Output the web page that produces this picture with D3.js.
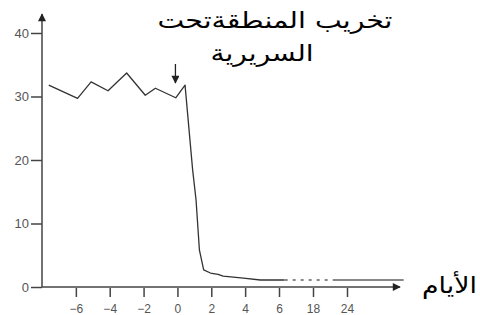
<!DOCTYPE html>
<html>
<head>
<meta charset="utf-8">
<script src="https://cdn.jsdelivr.net/npm/d3@7"></script>
<style>
  body { margin: 0; background: #fff; }
  svg { display: block; font-family: 'DejaVu Sans', sans-serif; }
  .tick text { fill: #555; }
  .tick line { stroke: #444; stroke-width: 1.5px; }
</style>
</head>
<body>
<svg width="480" height="315"></svg>
<script>
// data
const xTicks = [-6, -4, -2, 0, 2, 4, 6, 18, 24]
const yTicks = [0, 10, 20, 30, 40]
const days = [-7.6, -5.9, -5.1, -4.1, -3.0, -1.9, -1.3, -0.1, 0.45, 0.9, 1.1, 1.3, 1.55, 1.95, 2.4, 2.7, 3.9, 4.9, 8]
const values = [31.8, 29.7, 32.3, 30.9, 33.7, 30.2, 31.3, 29.8, 31.8, 18.4, 13.7, 5.8, 2.7, 2.2, 2.0, 1.7, 1.4, 1.1, 1.1]
const gapDays = [8, 21.5]
const gapValues = [1.1, 1.1]
const tailDays = [21.5, 34]
const tailValues = [1.1, 1.1]
const titleLines = ['تخريب المنطقةتحت', 'السريرية']
const xLabel = 'الأيام'
const markDay = 0

const svg = d3.select('svg')
const margin = { left: 42, bottom: 287 }

svg.append('defs').append('marker')
  .attr('id', 'arrow')
  .attr('viewBox', '0 -5 10 10')
  .attr('markerUnits', 'userSpaceOnUse')
  .attr('refX', 9)
  .attr('refY', 0)
  .attr('markerWidth', 10)
  .attr('markerHeight', 8)
  .attr('orient', 'auto')
  .append('path')
  .attr('d', 'M0,-5L10,0L0,5Z')
  .style('fill', '#222')

// broken day axis: 2 days per step up to 6, then 18, 24
const xScale = d3.scaleLinear(
  [-8, 6, 18, 24],
  [margin.left, 279, 313, 347],
)
const yScale = d3.scaleLinear([0, 40], [margin.bottom, 33])

// Y axis
const yAxisEl = svg.append('g')
  .attr('transform', `translate(${ margin.left },0)`)
  .call(d3.axisLeft(yScale).tickValues(yTicks).tickSizeInner(11).tickSizeOuter(0).tickPadding(2))
yAxisEl.select('.domain').remove()
yAxisEl.selectAll('.tick text').style('font-size', '13px')
yAxisEl.append('line')
  .attr('x1', 0).attr('y1', margin.bottom)
  .attr('x2', 0).attr('y2', 14)
  .style('stroke', '#444')
  .style('stroke-width', 1.5)
  .attr('marker-end', 'url(#arrow)')

// X axis
const xAxisEl = svg.append('g')
  .attr('transform', `translate(0,${ margin.bottom })`)
  .call(d3.axisBottom(xScale).tickValues(xTicks).tickFormat(d3.format('d')).tickSizeInner(10).tickSizeOuter(0).tickPadding(7))
xAxisEl.select('.domain').remove()
xAxisEl.selectAll('.tick text').style('font-size', '12px')
xAxisEl.selectAll('.tick line').attr('y1', 1)
xAxisEl.append('line')
  .attr('x1', margin.left).attr('y1', 0)
  .attr('x2', 400).attr('y2', 0)
  .style('stroke', '#444')
  .style('stroke-width', 1.5)
  .attr('marker-end', 'url(#arrow)')

svg.append('text')
  .attr('x', 477)
  .attr('y', 293)
  .attr('text-anchor', 'end')
  .attr('textLength', 55)
  .attr('lengthAdjust', 'spacingAndGlyphs')
  .style('font-size', '23px')
  .style('fill', '#000')
  .text(xLabel)

// line
const line = d3.line()
  .x(d => xScale(d[0]))
  .y(d => yScale(d[1]))

svg.append('path')
  .datum(d3.zip(days, values))
  .attr('d', line)
  .style('fill', 'none')
  .style('stroke', '#333')
  .style('stroke-width', 1.3)
  .style('stroke-linejoin', 'round')

svg.append('path')
  .datum(d3.zip(gapDays, gapValues))
  .attr('d', line)
  .style('fill', 'none')
  .style('stroke', '#888')
  .style('stroke-width', 2)
  .style('stroke-dasharray', '3 5')

svg.append('path')
  .datum(d3.zip(tailDays, tailValues))
  .attr('d', line)
  .style('fill', 'none')
  .style('stroke', '#888')
  .style('stroke-width', 2)

// annotation
svg.append('line')
  .attr('x1', xScale(markDay) - 2).attr('y1', 64)
  .attr('x2', xScale(markDay) - 2).attr('y2', 83)
  .style('stroke', '#222')
  .style('stroke-width', 1.3)
  .attr('marker-end', 'url(#arrow)')

svg.selectAll('.title')
  .data(titleLines)
  .join('text')
  .classed('title', true)
  .attr('x', (d, i) => i ? 262 : 275)
  .attr('y', (d, i) => i ? 61 : 28)
  .attr('text-anchor', 'middle')
  .attr('textLength', (d, i) => i ? 103 : 235)
  .attr('lengthAdjust', 'spacingAndGlyphs')
  .style('font-size', '23px')
  .style('fill', '#000')
  .text(d => d)
</script>
</body>
</html>
